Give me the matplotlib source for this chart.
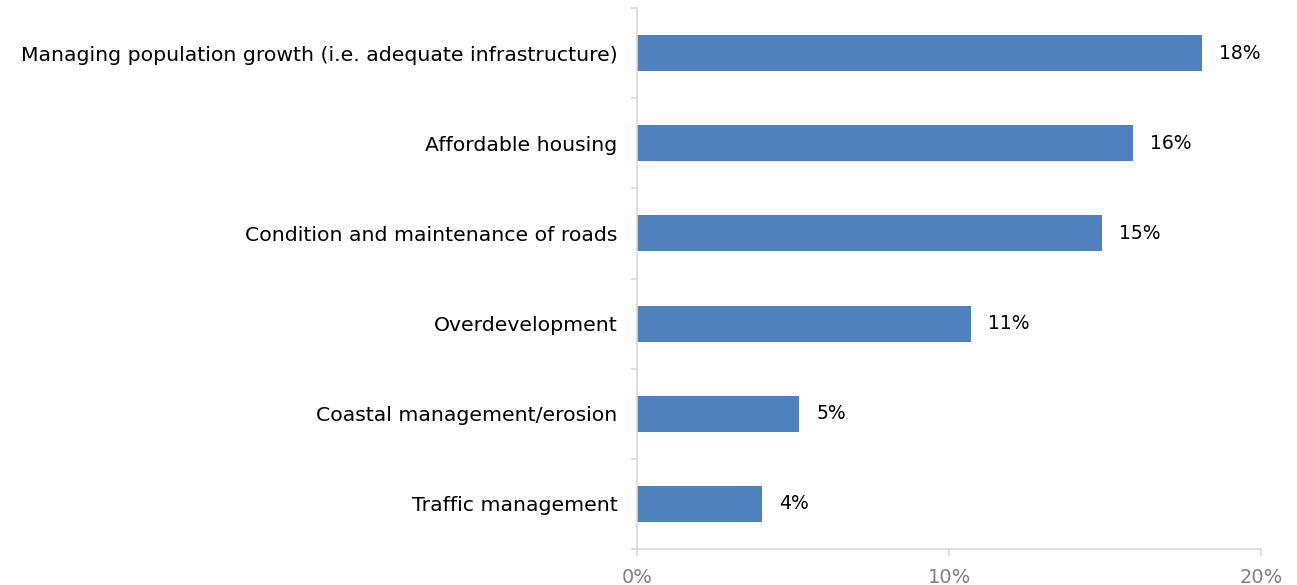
import matplotlib
matplotlib.use("Agg")
import matplotlib.pyplot as plt
import numpy as np

# issues ranked by share of responses (top to bottom)
issues = [
    "Managing population growth (i.e. adequate infrastructure)",
    "Affordable housing",
    "Condition and maintenance of roads",
    "Overdevelopment",
    "Coastal management/erosion",
    "Traffic management",
]
shares = [18.1, 15.9, 14.9, 10.7, 5.2, 4.0]
x_ticks = [0, 10, 20]

plt.rcParams["font.family"] = ["DejaVu Sans"]

fig = plt.figure(figsize=(12.97, 5.85), dpi=100)
ax = fig.add_axes([637/1297, 1-549/585, 624/1297, 541/585])

ypos = np.arange(len(issues))[::-1]
ax.barh(ypos, shares, height=0.4, color="#4F81BD", zorder=2)
for y, v in zip(ypos, shares):
    ax.text(v + 0.55, y, f"{v:.0f}%", va="center", ha="left", fontsize=13.5, color="#000000")

ax.set_xlim(0, 20)
ax.set_ylim(-0.5, len(issues) - 0.5)

ax.set_yticks(ypos)
ax.set_yticklabels(issues, fontsize=14.7, va="center_baseline")
ax.set_yticks(np.arange(-0.5, len(issues)), minor=True)
ax.tick_params(axis="y", which="major", length=0, pad=14)
ax.tick_params(axis="y", which="minor", length=4, color="#D9D9D9", width=1.2)

ax.set_xticks(x_ticks)
ax.set_xticklabels([f"{t}%" for t in x_ticks], fontsize=14, color="#808080")
ax.tick_params(axis="x", length=5, color="#D9D9D9", width=1.2, pad=8.5)

for side in ["top", "right"]:
    ax.spines[side].set_visible(False)
for side in ["left", "bottom"]:
    ax.spines[side].set_color("#D9D9D9")
    ax.spines[side].set_linewidth(1.2)

fig.savefig("out.png", dpi=100)
